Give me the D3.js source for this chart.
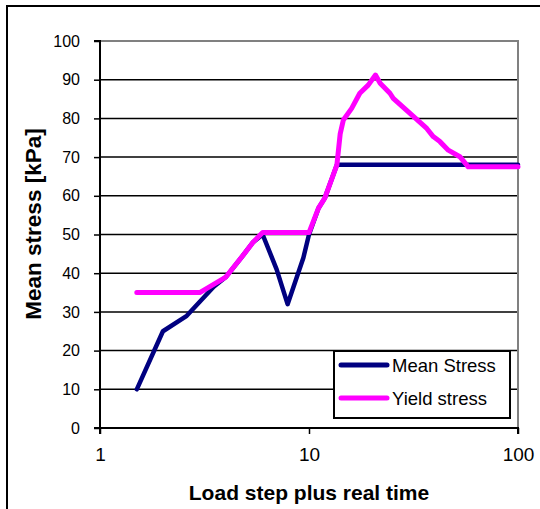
<!DOCTYPE html>
<html>
<head>
<meta charset="utf-8">
<script src="https://cdn.jsdelivr.net/npm/d3@7"></script>
<style>
  html, body { margin: 0; padding: 0; background: #fff; }
  svg { display: block; font-family: "Liberation Sans", Arial, sans-serif; }
</style>
</head>
<body>
<svg id="chart" width="540" height="509"></svg>
<script>
// Load step (log scale) vs. stress
const meanX  = [1.5, 2, 2.6, 3.5, 4, 4.85, 5.4, 6, 7, 7.9, 9.4, 10, 11.1, 11.9, 13.6, 100];
const meanY  = [10, 25, 29, 36.5, 39, 44.7, 48, 50, 41, 32, 44, 50, 56.8, 59.4, 68, 68];
const yieldX = [1.5, 3, 4, 4.85, 5.4, 6, 10, 11.1, 11.9, 13.6, 14.1, 14.6, 16, 17.5, 19.2, 20.8, 21.9, 24.4, 25.3, 31, 36.6, 39.3, 42.3, 46.4, 52.7, 57.8, 100];
const yieldY = [35, 35, 39, 44.7, 48, 50.5, 50.5, 56.8, 59.4, 68, 76, 79.6, 82.6, 86.5, 88.6, 91.2, 89.1, 86.5, 85.2, 80.9, 77.4, 75.3, 74, 71.8, 70.1, 67.5, 67.5];
const xTicks = [1, 10, 100];
const yTicks = [0, 10, 20, 30, 40, 50, 60, 70, 80, 90, 100];
const seriesNames = ["Mean Stress", "Yield stress"];
const seriesColors = ["#000080", "#ff00ff"];

const svg = d3.select("#chart");
const L = 100, R = 518, T = 41, B = 428;

const x = d3.scaleLog().domain([1, 100]).range([L, R]);
const y = d3.scaleLinear().domain([0, 100]).range([B, T]);

// outer frame (left and top edges)
svg.append("path")
  .attr("d", `M7,509 V6 H540`)
  .attr("fill", "none").attr("stroke", "#000").attr("stroke-width", 2);

// horizontal gridlines
svg.append("g").selectAll("line")
  .data(yTicks.filter(d => d > 0 && d < 100))
  .join("line")
  .attr("x1", L).attr("x2", R)
  .attr("y1", d => y(d)).attr("y2", d => y(d))
  .attr("stroke", "#000").attr("stroke-width", 1.5);

// plot frame: top and right in grey
svg.append("path")
  .attr("d", `M${L},${T} H${R} V${B}`)
  .attr("fill", "none").attr("stroke", "#808080").attr("stroke-width", 2);

// y axis
const yAxis = d3.axisLeft(y).tickValues(yTicks).tickSize(6).tickPadding(14);
const gy = svg.append("g").attr("transform", `translate(${L},0)`).call(yAxis);
gy.select(".domain").attr("stroke", "#000").attr("stroke-width", 2).attr("d", `M-6,${T}H0V${B}H-6`);
gy.selectAll(".tick line").attr("stroke", "#000").attr("stroke-width", 1.5);
gy.selectAll(".tick text").attr("font-size", 16).attr("fill", "#000")
  .attr("font-family", "Liberation Sans, Arial, sans-serif");

// x axis
const xAxis = d3.axisBottom(x).tickValues(xTicks).tickFormat(d3.format("d")).tickSize(6).tickPadding(14);
const gx = svg.append("g").attr("transform", `translate(0,${B})`).call(xAxis);
gx.select(".domain").attr("stroke", "#000").attr("stroke-width", 2).attr("d", `M${L},6V0H${R}V6`);
gx.selectAll(".tick line").attr("stroke", "#000").attr("stroke-width", 1.5);
gx.selectAll(".tick text").attr("font-size", 19).attr("fill", "#000")
  .attr("font-family", "Liberation Sans, Arial, sans-serif");

// series lines
const line = d3.line().x(d => x(d[0])).y(d => y(d[1]));
const series = [
  { pts: d3.zip(meanX, meanY), color: seriesColors[0], w: 4.5 },
  { pts: d3.zip(yieldX, yieldY), color: seriesColors[1], w: 5 }
];
svg.append("g").selectAll("path")
  .data(series)
  .join("path")
  .attr("d", d => line(d.pts))
  .attr("fill", "none")
  .attr("stroke", d => d.color)
  .attr("stroke-width", d => d.w)
  .attr("stroke-linejoin", "round")
  .attr("stroke-linecap", "round");

// axis titles
svg.append("text")
  .attr("x", 309).attr("y", 500)
  .attr("text-anchor", "middle")
  .attr("font-size", 21).attr("font-weight", "bold")
  .text("Load step plus real time");

svg.append("text")
  .attr("transform", "translate(41,224) rotate(-90)")
  .attr("text-anchor", "middle")
  .attr("font-size", 22.5).attr("font-weight", "bold")
  .text("Mean stress [kPa]");

// legend
const lg = svg.append("g");
lg.append("rect")
  .attr("x", 334).attr("y", 351).attr("width", 176).attr("height", 67)
  .attr("fill", "#fff").attr("stroke", "#000").attr("stroke-width", 2);
const rows = lg.selectAll("g.row")
  .data(seriesNames)
  .join("g").attr("class", "row")
  .attr("transform", (d, i) => `translate(0,${365 + i * 33})`);
rows.append("line")
  .attr("x1", 341).attr("x2", 387)
  .attr("stroke", (d, i) => seriesColors[i])
  .attr("stroke-width", 5).attr("stroke-linecap", "round");
rows.append("text")
  .attr("x", 392).attr("y", 7)
  .attr("font-size", 18.5)
  .text(d => d);
</script>
</body>
</html>
